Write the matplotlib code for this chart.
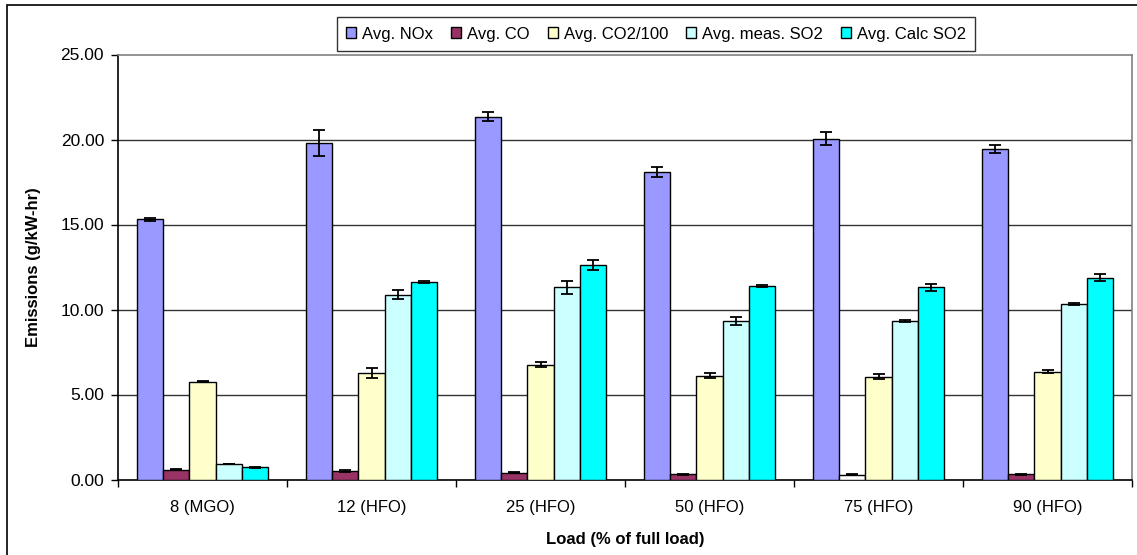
import matplotlib
matplotlib.use("Agg")
import matplotlib.pyplot as plt
from matplotlib.patches import Rectangle
import numpy as np

plt.rcParams['font.family'] = ['Liberation Sans', 'DejaVu Sans']

categories = ["8 (MGO)", "12 (HFO)", "25 (HFO)", "50 (HFO)", "75 (HFO)", "90 (HFO)"]
series_names = ["Avg. NOx", "Avg. CO", "Avg. CO2/100", "Avg. meas. SO2", "Avg. Calc SO2"]

nox = [15.3, 19.8, 21.35, 18.1, 20.05, 19.45]
nox_err = [0.08, 0.75, 0.28, 0.3, 0.4, 0.23]
co = [0.57, 0.5, 0.4, 0.3, 0.28, 0.3]
co_err = [0.03, 0.03, 0.02, 0.03, 0.04, 0.03]
co2 = [5.76, 6.25, 6.75, 6.1, 6.05, 6.35]
co2_err = [0.03, 0.3, 0.15, 0.15, 0.13, 0.08]
meas_so2 = [0.92, 10.88, 11.3, 9.33, 9.33, 10.32]
meas_so2_err = [0.02, 0.25, 0.37, 0.25, 0.05, 0.06]
calc_so2 = [0.72, 11.6, 12.62, 11.38, 11.3, 11.88]
calc_so2_err = [0.03, 0.06, 0.28, 0.06, 0.2, 0.18]

series = [nox, co, co2, meas_so2, calc_so2]
errors = [nox_err, co_err, co2_err, meas_so2_err, calc_so2_err]
colors = ["#9999FF", "#993366", "#FFFFCC", "#CCFFFF", "#00FFFF"]

W, H = 1137, 555
fig = plt.figure(figsize=(W / 100, H / 100), dpi=100)
ax = fig.add_axes([118 / W, 1 - 479.5 / H, (1132 - 118) / W, (479.5 - 54.5) / H])

# figure border (left & top visible)
fig.patches.append(Rectangle((7 / W, -0.05), 1.2, (H - 5) / H + 0.05, transform=fig.transFigure,
                             fill=False, edgecolor='black', linewidth=1.2))

n = len(categories)
x = np.arange(n) + 0.5
bw = 0.154
handles = []
for k, (vals, errs, c, name) in enumerate(zip(series, errors, colors, series_names)):
    pos = x + (k - 2) * bw
    bars = ax.bar(pos, vals, width=bw, color=c, edgecolor='black', linewidth=1.0,
                  label=name, zorder=3)
    ax.errorbar(pos, vals, yerr=errs, fmt='none', ecolor='black', elinewidth=1.3,
                capsize=4, capthick=1.3, zorder=4)
    handles.append(bars)
    if k == 1:
        bars[4].set_facecolor('white')

ax.set_xlim(0, n)
ax.set_ylim(0, 25)
ax.set_yticks(np.arange(0, 25.01, 5))
ax.set_yticklabels([f"{v:.2f}" for v in np.arange(0, 25.01, 5)], fontsize=12.5)
ax.set_xticks(np.arange(0, n + 1))
ax.set_xticklabels([])
ax.set_xticks(x, minor=True)
ax.set_xticklabels(categories, minor=True, fontsize=12)
ax.tick_params(axis='x', which='minor', length=0, pad=15)
ax.tick_params(axis='x', which='major', length=5, width=1, direction='out')
ax.tick_params(axis='y', length=5, width=1, direction='out', pad=5)

for yv in [5, 10, 15, 20]:
    ax.axhline(yv, color='#333333', linewidth=1.0, zorder=1)

ax.spines['left'].set_color('black')
ax.spines['bottom'].set_color('black')
ax.spines['top'].set_color('#808080')
ax.spines['right'].set_color('#808080')
for s in ax.spines.values():
    s.set_linewidth(1.2)

ax.set_ylabel("Emissions (g/kW-hr)", fontsize=12, fontweight='bold', labelpad=14)
ax.set_xlabel("Load (% of full load)", fontsize=12, fontweight='bold', labelpad=12)

leg = fig.legend(handles=handles, labels=series_names, loc='center',
                 bbox_to_anchor=(656 / W, 1 - 34 / H), ncol=5, fontsize=12,
                 frameon=True, fancybox=False, edgecolor='black',
                 handlelength=0.6, handleheight=0.6, handletextpad=0.35,
                 columnspacing=1.1, borderpad=0.55)
leg.get_frame().set_linewidth(1.0)

fig.savefig("out.png", dpi=100)
